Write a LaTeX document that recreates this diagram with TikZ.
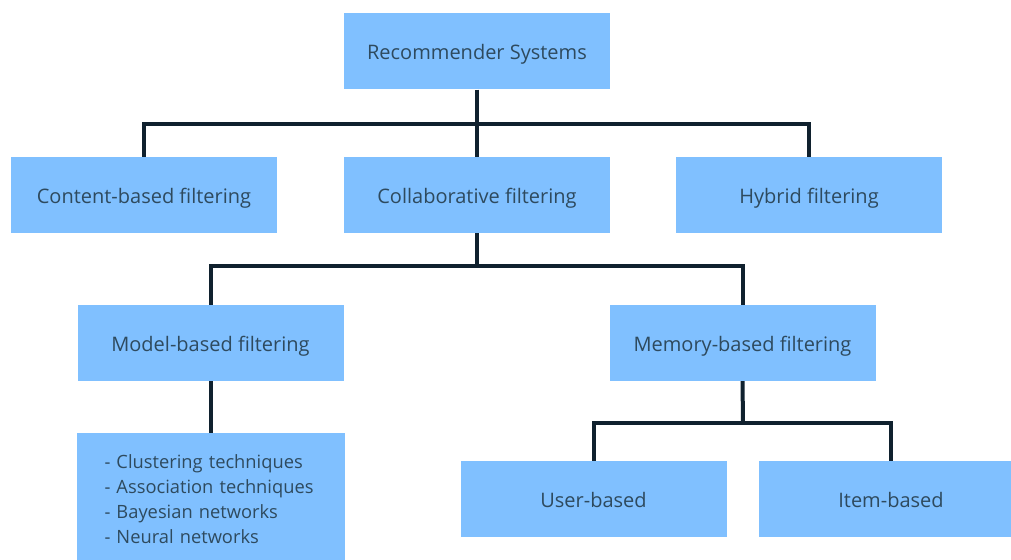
\documentclass[tikz,border=0pt]{standalone}
\usepackage{fontspec}
\setmainfont{Open Sans}
\definecolor{boxfill}{HTML}{80C0FF}
\definecolor{linecol}{HTML}{10212E}
\definecolor{txtcol}{HTML}{2E4A5E}
\begin{document}
\begin{tikzpicture}[x=1pt,y=-1pt,
  box/.style={rectangle, fill=boxfill, draw=none, text=txtcol, minimum width=266pt, minimum height=76pt, inner sep=0pt, font=\fontsize{20}{24}\selectfont, text height=20pt, text depth=4pt},
  conn/.style={draw=linecol, line width=4pt}]
\useasboundingbox (0,0) rectangle (1011,559);
\node[box] (rec) at (477,51.5) {Recommender Systems};
\node[box] (cont) at (144,195) {Content-based filtering};
\node[box] (col) at (477,195) {Collaborative filtering};
\node[box] (hyb) at (809,195) {Hybrid filtering};
\node[box] (model) at (210.5,343) {Model-based filtering};
\node[box] (mem) at (742.5,343) {Memory-based filtering};
\node[box, text height=, text depth=, minimum height=133pt, align=left, text width=212pt, inner xsep=28pt, font=\fontsize{18.3}{25}\selectfont] (list) at (210.5,499.5)
  {- Clustering techniques\\- Association techniques\\- Bayesian networks\\- Neural networks};
\node[box] (user) at (593.5,499) {User-based};
\node[box, minimum width=264pt] (item) at (891,499) {Item-based};
\coordinate (j1) at (477,124);
\coordinate (j2) at (477,266);
\coordinate (j3) at (743,423);
\draw[conn] (cont.north) |- (j1) -| (hyb.north);
\draw[conn] (rec.south) -- (col.north);
\draw[conn] (model.north) |- (j2) -| (mem.north);
\draw[conn] (col.south) -- (j2);
\draw[conn] (model.south) -- (list.north);
\draw[conn] (user.north) |- (j3) -| (item.north);
\draw[conn] (mem.south) -- (j3);
\end{tikzpicture}
\end{document}
